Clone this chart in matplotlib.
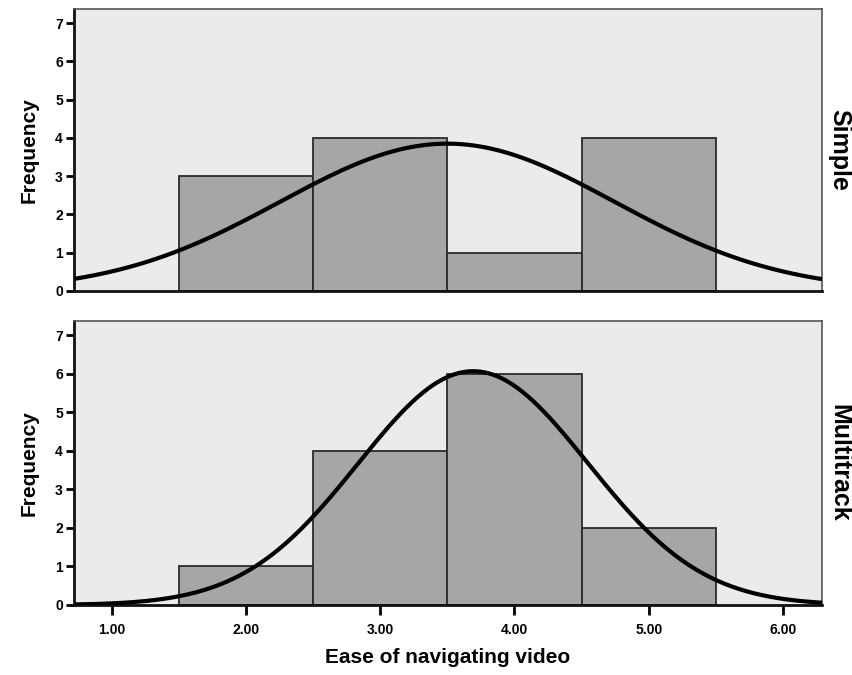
import numpy as np
import matplotlib
matplotlib.use("Agg")
import matplotlib.pyplot as plt

# bin centres and frequencies per group
bin_centers = [2.0, 3.0, 4.0, 5.0]
simple_counts = [3, 4, 1, 4]
multitrack_counts = [1, 4, 6, 2]
groups = ["Simple", "Multitrack"]
x_ticks = [1.0, 2.0, 3.0, 4.0, 5.0, 6.0]
y_ticks = [0, 1, 2, 3, 4, 5, 6, 7]

plt.rcParams["font.family"] = ["Liberation Sans", "DejaVu Sans"]
plt.rcParams["font.weight"] = "bold"

BG = "#ebebeb"
BAR = "#a6a6a6"
XMIN, XMAX = 0.72, 6.29
YMAX = 7.37


def normal_curve(centers, counts, xs):
    # SPSS-style fitted normal, scaled to bin width 1
    vals = np.repeat(centers, counts)
    n = len(vals)
    mu = vals.mean()
    sd = vals.std(ddof=1)
    return n * np.exp(-0.5 * ((xs - mu) / sd) ** 2) / (sd * np.sqrt(2 * np.pi))


fig = plt.figure(figsize=(8.53, 6.75), dpi=100)
ax_top = fig.add_axes([74 / 853, 1 - 291 / 675, 748 / 853, 282 / 675])
ax_bot = fig.add_axes([74 / 853, 1 - 605 / 675, 748 / 853, 284 / 675])

xs = np.linspace(XMIN, XMAX, 400)
for ax, counts, name in [(ax_top, simple_counts, groups[0]),
                         (ax_bot, multitrack_counts, groups[1])]:
    ax.set_facecolor(BG)
    ax.bar(bin_centers, counts, width=1.0, color=BAR, edgecolor="#2a2a2a",
           linewidth=1.3, zorder=2)
    ax.plot(xs, normal_curve(bin_centers, counts, xs), color="black",
            linewidth=3, zorder=3, solid_capstyle="butt")
    ax.set_xlim(XMIN, XMAX)
    ax.set_ylim(0, YMAX)
    ax.set_yticks(y_ticks)
    ax.set_ylabel("Frequency", fontsize=15, fontweight="bold", labelpad=12)
    ax.tick_params(axis="y", direction="out", length=6, width=2, labelsize=10, pad=2)
    ax.tick_params(axis="x", direction="out", length=7, width=2, labelsize=10, pad=6)
    for side in ["top", "right"]:
        ax.spines[side].set_color("#555555")
        ax.spines[side].set_linewidth(1.2)
    for side in ["left", "bottom"]:
        ax.spines[side].set_color("#111111")
        ax.spines[side].set_linewidth(2)
    ax.text(1.007, 0.5, name, transform=ax.transAxes, rotation=-90,
            ha="left", va="center", fontsize=18, fontweight="bold")

ax_top.set_xticks([])
ax_bot.set_xticks(x_ticks)
ax_bot.set_xticklabels([f"{t:.2f}" for t in x_ticks])
ax_bot.set_xlabel("Ease of navigating video", fontsize=15, fontweight="bold",
                  labelpad=8)

fig.savefig("out.png", dpi=100, facecolor="white")
